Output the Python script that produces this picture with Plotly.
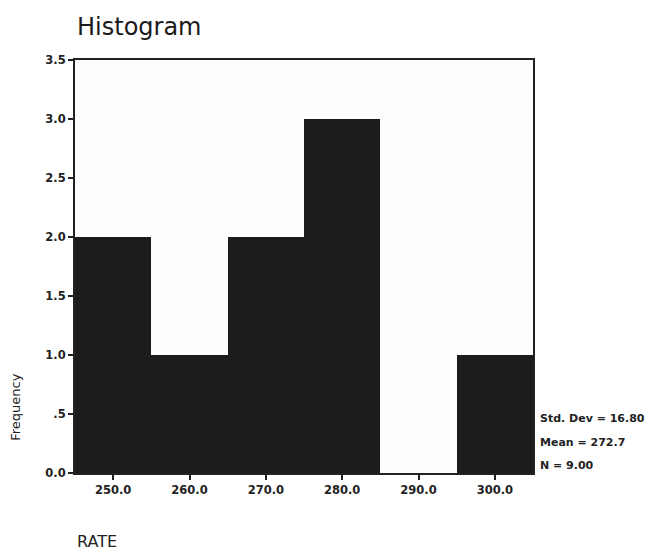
import plotly.graph_objects as go

bin_centers = [250, 260, 270, 280, 290, 300]
frequencies = [2, 1, 2, 3, 0, 1]
x_tick_vals = [250, 260, 270, 280, 290, 300]
x_tick_labels = ["250.0", "260.0", "270.0", "280.0", "290.0", "300.0"]
y_tick_vals = [0, 0.5, 1.0, 1.5, 2.0, 2.5, 3.0, 3.5]
y_tick_labels = ["0.0", ".5", "1.0", "1.5", "2.0", "2.5", "3.0", "3.5"]
stats_lines = ["Std. Dev = 16.80", "Mean = 272.7", "N = 9.00"]
stats_y = [0.133, 0.075, 0.017]

font = "DejaVu Sans"

fig = go.Figure()
fig.add_trace(go.Bar(
    x=bin_centers, y=frequencies, width=10,
    marker=dict(color="#1c1c1c", line=dict(width=0)),
    showlegend=False,
))

axis_common = dict(
    ticks="outside", ticklen=5, tickcolor="#222", tickwidth=1.5,
    showline=True, linecolor="#222", linewidth=2, mirror=True,
    showgrid=False, zeroline=False, tickfont=dict(size=11.5, family=font, color="#222"),
)

fig.update_layout(
    width=647, height=545,
    margin=dict(l=67, r=122, t=52, b=80),
    paper_bgcolor="#ffffff", plot_bgcolor="#fdfdfd",
    bargap=0,
    font=dict(family=font, color="#222222"),
    xaxis=dict(range=[245, 305], tickvals=x_tick_vals,
               ticktext=["<b>%s</b>" % t for t in x_tick_labels], **axis_common),
    yaxis=dict(range=[0, 3.5], tickvals=y_tick_vals,
               ticktext=["<b>%s</b>" % t for t in y_tick_labels], **axis_common),
)

fig.add_annotation(text="Histogram", xref="paper", yref="paper", x=0.0, y=1.08,
                   xanchor="left", yanchor="middle", showarrow=False,
                   font=dict(size=24, family=font, color="#1a1a1a"))
fig.add_annotation(text="Frequency", xref="paper", yref="paper", x=-0.129, y=0.16,
                   xanchor="center", yanchor="middle", textangle=-90, showarrow=False,
                   font=dict(size=13, family=font, color="#222"))
fig.add_annotation(text="RATE", xref="paper", yref="paper", x=0.0, y=-0.165,
                   xanchor="left", yanchor="middle", showarrow=False,
                   font=dict(size=16, family=font, color="#222"))
for line, yy in zip(stats_lines, stats_y):
    fig.add_annotation(text="<b>%s</b>" % line, xref="paper", yref="paper",
                       x=1.01, y=yy, xanchor="left", yanchor="middle",
                       showarrow=False, font=dict(size=11, family=font, color="#222"))

fig.write_html("out.html")
